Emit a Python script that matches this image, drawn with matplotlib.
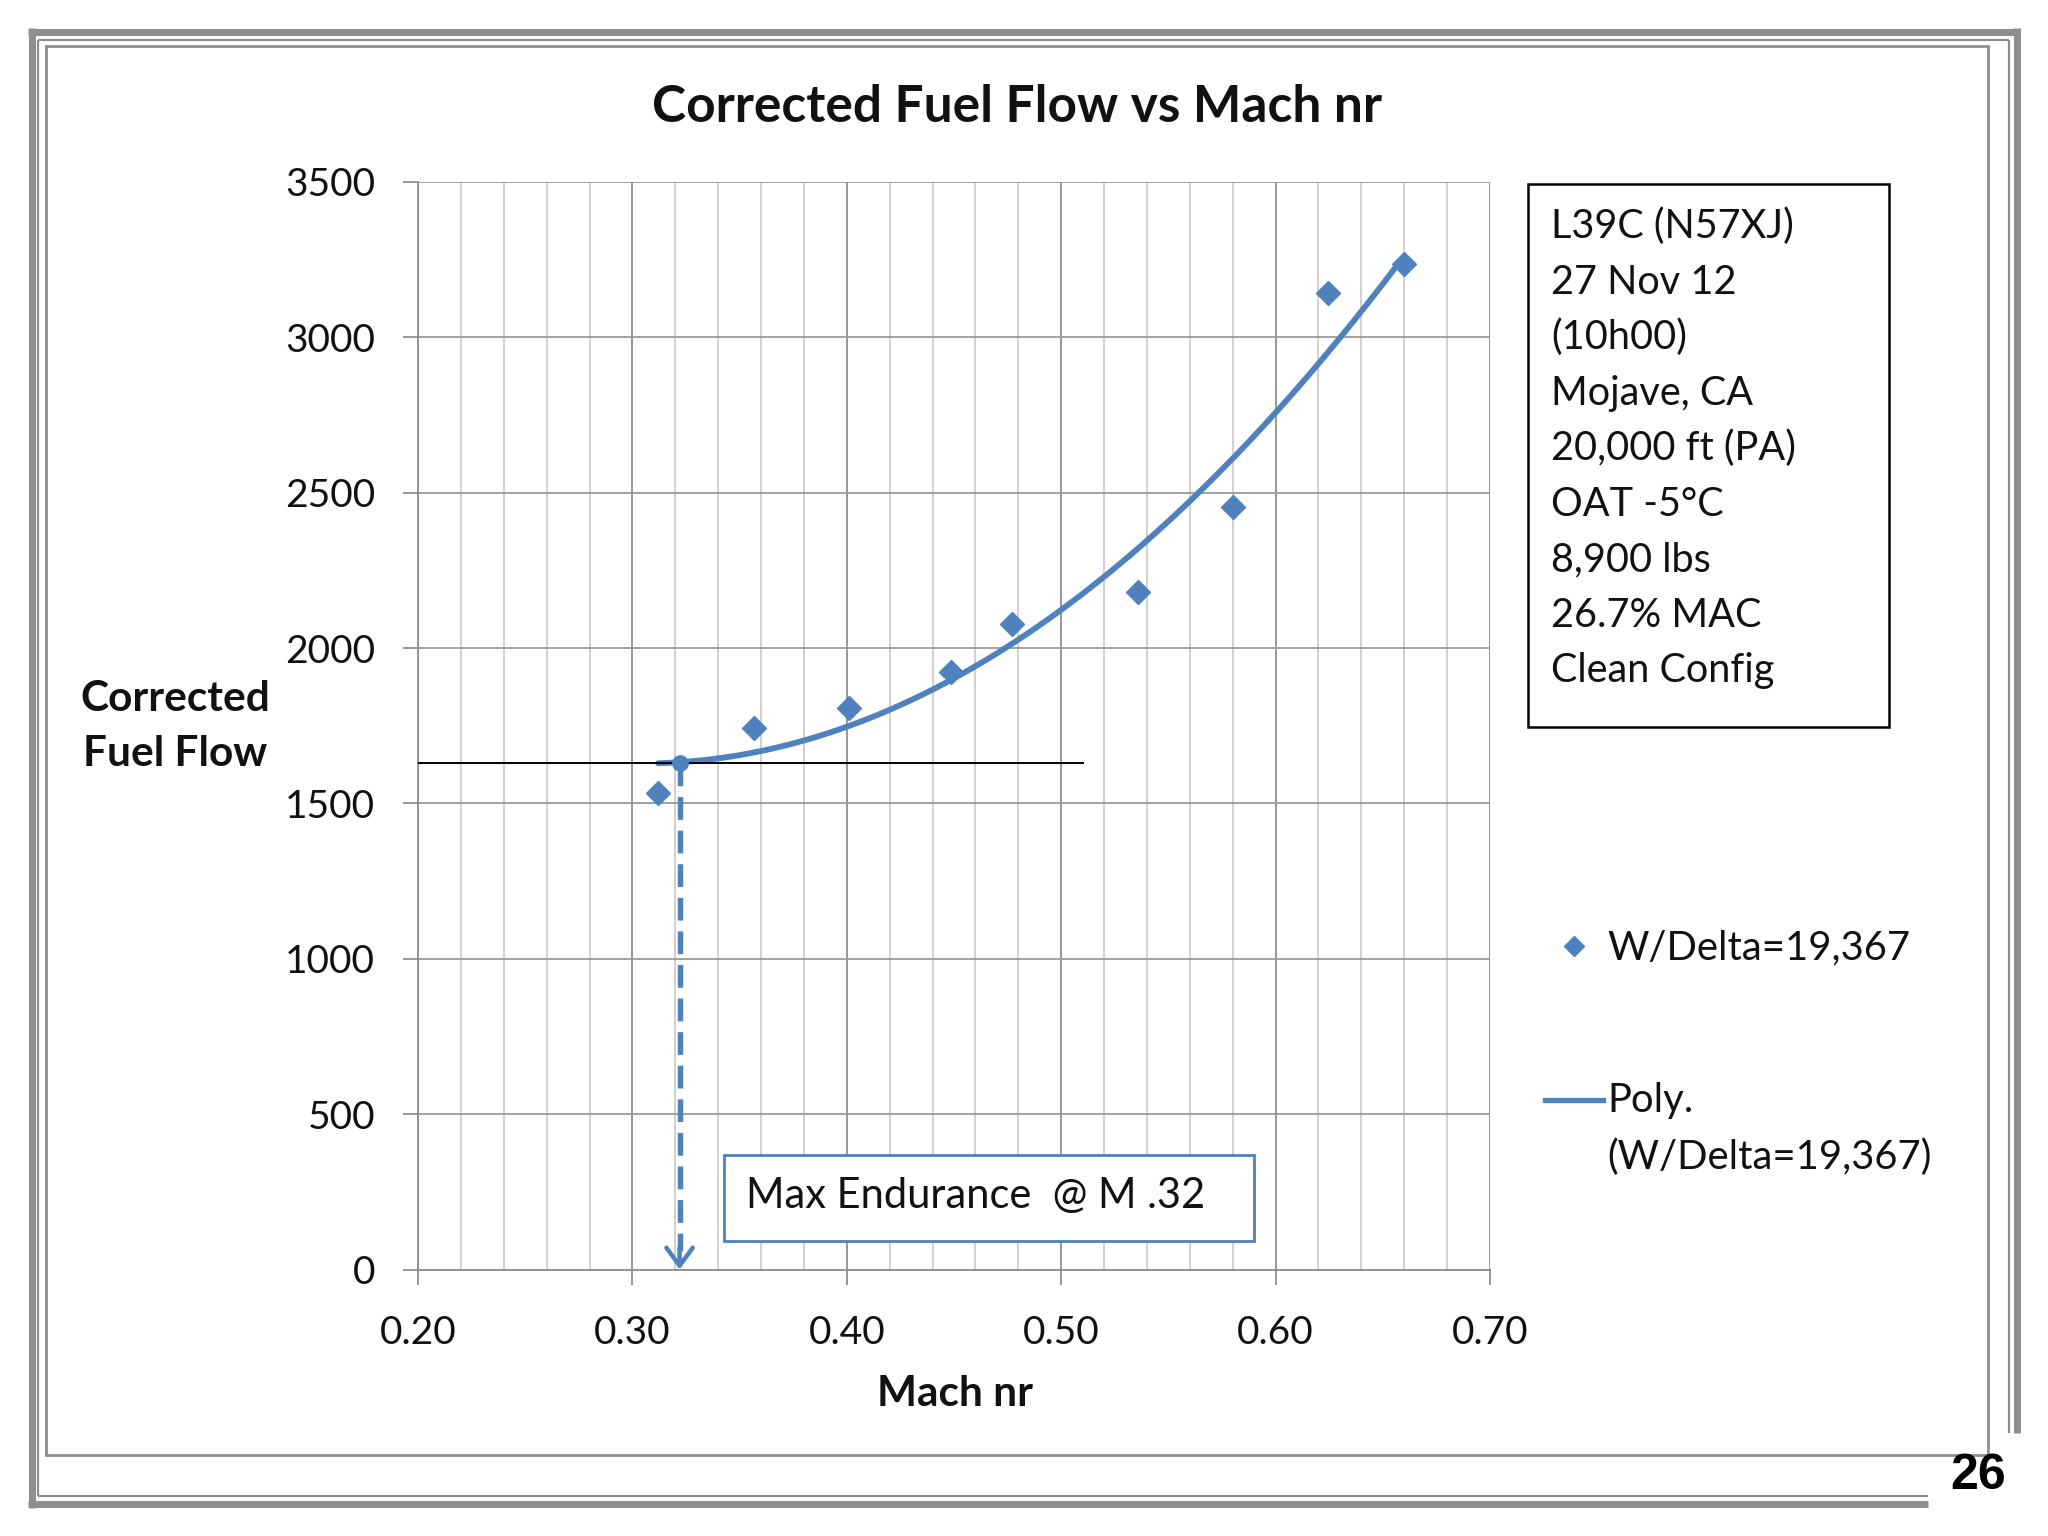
import numpy as np
import matplotlib
matplotlib.use("Agg")
import matplotlib.pyplot as plt
from matplotlib.ticker import MultipleLocator, FixedLocator
from matplotlib.patches import Rectangle, FancyArrowPatch, ArrowStyle
from matplotlib.lines import Line2D

plt.rcParams['font.family'] = ['Lato', 'DejaVu Sans']

# ---------------- data ----------------
mach = [0.312, 0.3565, 0.401, 0.4485, 0.477, 0.5356, 0.580, 0.6245, 0.660]
fuel_flow = [1533, 1744, 1807, 1924, 2076, 2181, 2454, 3143, 3235]
poly_order = 2

max_end_mach = 0.322
max_end_ff = 1630
hline_end_mach = 0.51

x_ticks = [0.20, 0.30, 0.40, 0.50, 0.60, 0.70]
y_ticks = [0, 500, 1000, 1500, 2000, 2500, 3000, 3500]

title = "Corrected Fuel Flow vs Mach nr"
x_label = "Mach nr"
y_label_lines = ["Corrected", "Fuel Flow"]
info_lines = ["L39C (N57XJ)", "27 Nov 12", "(10h00)", "Mojave, CA", "20,000 ft (PA)",
              "OAT -5°C", "8,900 lbs", "26.7% MAC", "Clean Config"]
series_label = "W/Delta=19,367"
trend_label_lines = ["Poly.", "(W/Delta=19,367)"]
note_text = "Max Endurance  @ M .32"
page_number = "26"

BLUE = "#4f81bd"
W, H = 2048, 1536


def fx(x):
    return x / W


def fy(y):
    return 1 - y / H


fig = plt.figure(figsize=(W / 100, H / 100), dpi=100)
fig.patch.set_facecolor("white")

# ---------------- axes ----------------
L, T, R, B = 418, 182, 1490, 1269.5
ax = fig.add_axes([fx(L), fy(B), (R - L) / W, (B - T) / H])
ax.set_xlim(0.20, 0.70)
ax.set_ylim(0, 3500)
ax.xaxis.set_major_locator(FixedLocator(x_ticks))
ax.xaxis.set_minor_locator(MultipleLocator(0.02))
ax.yaxis.set_major_locator(FixedLocator(y_ticks))
ax.set_xticklabels([f"{v:.2f}" for v in x_ticks])
ax.set_yticklabels([str(v) for v in y_ticks])
ax.grid(which="minor", axis="x", color="#c4c4c4", lw=1.1)
ax.grid(which="major", axis="x", color="#8f8f8f", lw=1.3)
ax.grid(which="major", axis="y", color="#9a9a9a", lw=1.3)
ax.set_axisbelow(True)
for s in ("top", "right"):
    ax.spines[s].set_visible(False)
for s in ("left", "bottom"):
    ax.spines[s].set_color("#8f8f8f")
    ax.spines[s].set_linewidth(1.3)
ax.tick_params(axis="both", which="major", direction="out", length=11, width=1.3,
               color="#8f8f8f", labelsize=28, labelcolor="#111111")
ax.tick_params(axis="x", which="major", pad=22)
ax.tick_params(axis="y", which="major", pad=20)
ax.tick_params(axis="x", which="minor", length=0)

# trend line (polynomial fit of the series)
coef = np.polyfit(mach, fuel_flow, poly_order)
xs = np.linspace(min(mach), max(mach), 200)
ax.plot(xs, np.polyval(coef, xs), color=BLUE, lw=4.2, zorder=3, solid_capstyle="round")

# scatter
ax.plot(mach, fuel_flow, linestyle="none", marker="D", ms=12, color=BLUE,
        markeredgecolor=BLUE, zorder=4)

# max endurance construction
ax.plot([0.20, hline_end_mach], [max_end_ff, max_end_ff], color="black", lw=1.4, zorder=3)
ax.plot([max_end_mach, max_end_mach], [max_end_ff, 60], color=BLUE, lw=3.9,
        dashes=(4.2, 2.0), zorder=3)
ax.add_patch(FancyArrowPatch((max_end_mach, 70), (max_end_mach, 0),
                             arrowstyle=ArrowStyle("->", head_length=13, head_width=9.5),
                             mutation_scale=1, lw=3.2, color=BLUE, shrinkA=0, shrinkB=0,
                             zorder=3, clip_on=False))
ax.plot([max_end_mach], [max_end_ff], marker="o", ms=11, color=BLUE, zorder=5)

# ---------------- texts ----------------
fig.text(fx(1017), fy(107), title, ha="center", va="center", fontsize=37,
         fontweight="bold", color="#111111")
fig.text(fx(955), fy(1394), x_label, ha="center", va="center", fontsize=30.5,
         fontweight="bold", color="#111111")
for i, line in enumerate(y_label_lines):
    fig.text(fx(175), fy(699 + i * 55), line, ha="center", va="center", fontsize=30.5,
             fontweight="bold", color="#111111")

# info box
fig.add_artist(Rectangle((fx(1528), fy(727)), (1889 - 1528) / W, (727 - 184) / H,
                         transform=fig.transFigure, fill=False, ec="black", lw=1.8))
for i, line in enumerate(info_lines):
    fig.text(fx(1551), fy(238 + i * 55.5), line, ha="left", va="baseline",
             fontsize=28.5, color="#111111")

# legend
fig.add_artist(Line2D([fx(1574)], [fy(946)], marker="D", ms=10, color=BLUE,
                      linestyle="none", transform=fig.transFigure))
fig.text(fx(1607), fy(959), series_label, ha="left", va="baseline", fontsize=28.8,
         color="#111111")
fig.add_artist(Line2D([fx(1545), fx(1603)], [fy(1100), fy(1100)], color=BLUE, lw=3.8,
                      transform=fig.transFigure))
fig.text(fx(1607), fy(1112), trend_label_lines[0], ha="left", va="baseline",
         fontsize=28.8, color="#111111")
fig.text(fx(1607), fy(1169), trend_label_lines[1], ha="left", va="baseline",
         fontsize=28.8, color="#111111")

# note box
fig.add_artist(Rectangle((fx(724), fy(1241)), (1254 - 724) / W, (1241 - 1155) / H,
                         transform=fig.transFigure, fc="white", ec=BLUE, lw=2.0,
                         zorder=5))
fig.text(fx(746), fy(1208), note_text, ha="left", va="baseline", fontsize=30,
         color="#111111", zorder=6)

# page frame
G = "#8e8e8e"
def hline(x0, x1, y, lw):
    fig.add_artist(Line2D([fx(x0), fx(x1)], [fy(y), fy(y)], color=G, lw=lw,
                          transform=fig.transFigure, solid_capstyle="butt"))
def vline(x, y0, y1, lw):
    fig.add_artist(Line2D([fx(x), fx(x)], [fy(y0), fy(y1)], color=G, lw=lw,
                          transform=fig.transFigure, solid_capstyle="butt"))

# outer thick
hline(28, 2020, 31.5, 5.0)
vline(31.5, 28, 1508, 5.0)
vline(2016.5, 28, 1433, 5.0)
hline(28, 1928, 1504, 5.0)
# thin
hline(38, 2009, 40, 1.6)
vline(38, 40, 1496, 1.6)
vline(2008.5, 40, 1433, 1.6)
hline(38, 1928, 1496, 1.6)
# inner
hline(45, 1989, 45.5, 2.0)
vline(45.5, 45, 1456, 2.0)
vline(1988, 45, 1456, 2.0)
hline(45, 1989, 1455, 2.0)

fig.text(fx(1978), fy(1476), page_number, ha="center", va="center", fontsize=36,
         fontweight="bold", family=["Liberation Sans", "DejaVu Sans"], color="black")

fig.savefig("out.png", dpi=100, facecolor="white")
